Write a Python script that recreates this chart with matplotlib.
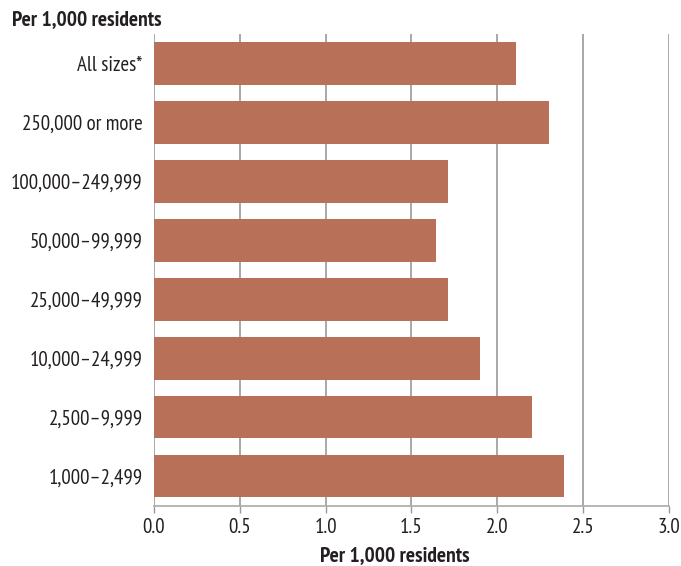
import matplotlib
matplotlib.use("Agg")
import matplotlib.pyplot as plt

plt.rcParams['font.family'] = ['PT Sans Narrow', 'DejaVu Sans']

categories = ["All sizes*", "250,000 or more", "100,000\u2013249,999", "50,000\u201399,999",
              "25,000\u201349,999", "10,000\u201324,999", "2,500\u20139,999", "1,000\u20132,499"]
values = [2.11, 2.30, 1.71, 1.64, 1.71, 1.90, 2.20, 2.39]
xticks = [0.0, 0.5, 1.0, 1.5, 2.0, 2.5, 3.0]
xtick_labels = ["0.0", "0.5", "1.0", "1.5", "2.0", "2.5", "3.0"]

fig = plt.figure(figsize=(6.81, 5.66), dpi=100)
ax = fig.add_axes([0.2257, 0.1065, 0.7571, 0.8335])

ypos = list(range(len(categories)))
ax.barh(ypos, values, height=0.72, color="#B87059", zorder=3)
ax.set_ylim(len(categories) - 0.5, -0.5)
ax.set_xlim(0, 3.0)
ax.set_xticks(xticks)
ax.set_xticklabels(xtick_labels, fontsize=15, color="#231f20")
ax.set_yticks(ypos)
ax.set_yticklabels(categories, fontsize=15, color="#231f20")
ax.tick_params(axis='y', length=0, pad=8)
ax.tick_params(axis='x', length=5, width=1, color="#999999", pad=4)
ax.grid(axis='x', color="#999999", linewidth=1.2, zorder=1)
for s in ["top", "right", "left"]:
    ax.spines[s].set_visible(False)
ax.spines["bottom"].set_color("#aaaaaa")
ax.spines["bottom"].set_linewidth(1.2)
fig.text(395/681, 1 - 556/566, "Per 1,000 residents", fontsize=15.5, fontweight="bold",
         color="#231f20", ha="center", va="center")
fig.text(12/681, 1 - 20/566, "Per 1,000 residents", fontsize=15.5, fontweight="bold",
         color="#231f20", ha="left", va="center")

fig.savefig("out.png", dpi=100)
